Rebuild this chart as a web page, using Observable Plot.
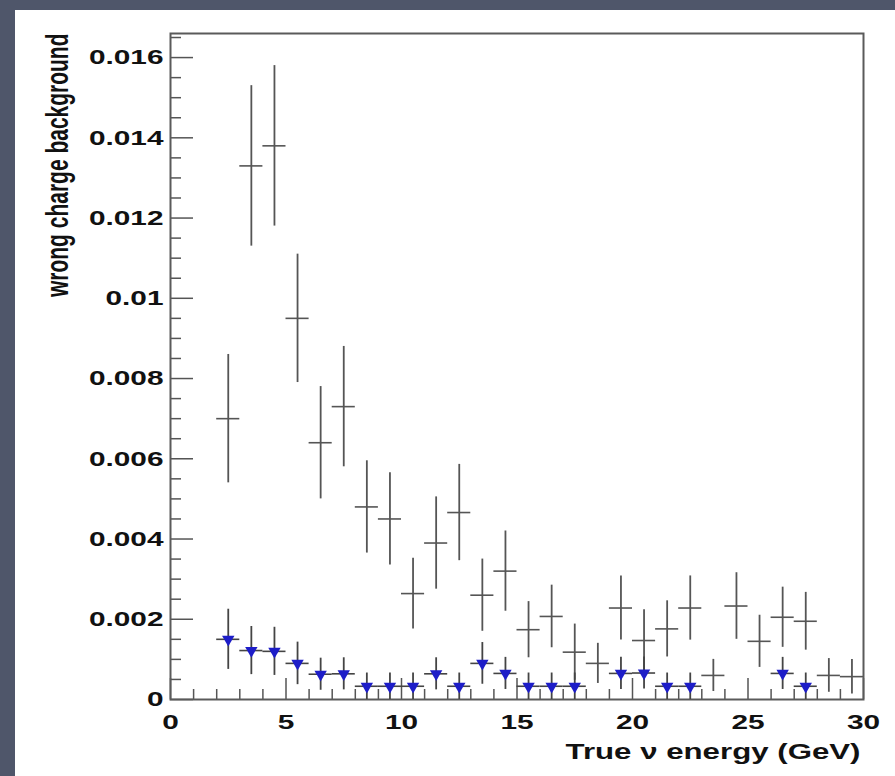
<!DOCTYPE html>
<html>
<head>
<meta charset="utf-8">
<script src="https://cdn.jsdelivr.net/npm/d3@7"></script>
<script src="https://cdn.jsdelivr.net/npm/@observablehq/plot@0.6"></script>
<style>
  html, body { margin: 0; padding: 0; }
  body { width: 895px; height: 776px; overflow: hidden; position: relative;
         background: #4f566a; }
  #panel { position: absolute; left: 15px; top: 10px; width: 880px; height: 766px; background: #ffffff; }
  #panel svg { display: block; background: transparent; }
</style>
</head>
<body>
<div id="panel"></div>
<script>
// ---- data ----
const binLow   = [2, 3, 4, 5, 6, 7, 8, 9, 10, 11, 12, 13, 14, 15, 16, 17, 18, 19, 20, 21, 22, 23, 24, 25, 26, 27, 28, 29];
const wrongVal = [0.0070, 0.0133, 0.0138, 0.0095, 0.0064, 0.0073, 0.0048, 0.0045, 0.00264, 0.0039, 0.00466, 0.0026, 0.0032, 0.00174,
                  0.00207, 0.00118, 0.0009, 0.00228, 0.00147, 0.00176, 0.00228, 0.0006, 0.00233, 0.00145, 0.00205, 0.00195, 0.0006, 0.00057];
const wrongErr = [0.0016, 0.0020, 0.0020, 0.0016, 0.0014, 0.0015, 0.00115, 0.00115, 0.00088, 0.00115, 0.0012, 0.0009, 0.0010, 0.0007,
                  0.00078, 0.0007, 0.0005, 0.0008, 0.00077, 0.0007, 0.0008, 0.0004, 0.00083, 0.00065, 0.00075, 0.00072, 0.00042, 0.00043];

const blueLow = [2, 3, 4, 5, 6, 7, 8, 9, 10, 11, 12, 13, 14, 15, 16, 17, 19, 20, 21, 22, 26, 27];
const blueVal = [0.0015, 0.00122, 0.0012, 0.0009, 0.00063, 0.00064, 0.00033, 0.00033, 0.00033, 0.00064, 0.00033, 0.0009, 0.00065,
                 0.00033, 0.00033, 0.00033, 0.00065, 0.00066, 0.00033, 0.00033, 0.00065, 0.00033];
const blueErr = [0.00075, 0.0006, 0.0006, 0.00053, 0.0004, 0.0004, 0.00033, 0.00033, 0.00033, 0.0004, 0.00033, 0.00052, 0.0004,
                 0.00033, 0.00033, 0.00033, 0.0004, 0.0004, 0.00033, 0.00033, 0.0004, 0.00033];

const yMajor = [0, 0.002, 0.004, 0.006, 0.008, 0.010, 0.012, 0.014, 0.016];
const yMinor = [0.0005, 0.001, 0.0015, 0.0025, 0.003, 0.0035, 0.0045, 0.005, 0.0055, 0.0065, 0.007, 0.0075, 0.0085, 0.009, 0.0095,
                0.0105, 0.011, 0.0115, 0.0125, 0.013, 0.0135, 0.0145, 0.015, 0.0155, 0.0165];
const xMajor = [0, 5, 10, 15, 20, 25, 30];
const xMinor = [1, 2, 3, 4, 6, 7, 8, 9, 11, 12, 13, 14, 16, 17, 18, 19, 21, 22, 23, 24, 26, 27, 28, 29];
const yTitle = "wrong charge background";
const xTitle = "True \u03bd energy (GeV)";

// ---- build tables ----
const wrong = binLow.map((b, i) => ({lo: b, hi: b + 1, mid: b + 0.5, v: wrongVal[i], e: wrongErr[i]}));
const blue  = blueLow.map((b, i) => ({lo: b, hi: b + 1, mid: b + 0.5, v: blueVal[i], e: blueErr[i]}));

const W = 880, H = 766, mL = 155, mR = 32, mT = 23, mB = 77;
const innerW = W - mL - mR, innerH = H - mT - mB;
const font = "'Liberation Sans', Arial, Helvetica, sans-serif";
const lineCol = "#555";

const fmt = d => d === 0 ? "0" : String(+d.toFixed(3));

const svg = Plot.plot({
  width: W, height: H,
  marginLeft: mL, marginRight: mR, marginTop: mT, marginBottom: mB,
  style: {background: "transparent", fontFamily: font},
  x: {domain: [0, 30], axis: null},
  y: {domain: [0, 0.0166], axis: null},
  marks: [
    // axis ticks (inward, ROOT style)
    Plot.tickY(yMajor, {y: d => d, insetRight: innerW - 23, stroke: lineCol, strokeWidth: 1.5}),
    Plot.tickY(yMinor, {y: d => d, insetRight: innerW - 11, stroke: lineCol, strokeWidth: 1.5}),
    Plot.tickX(xMajor, {x: d => d, insetTop: innerH - 21, stroke: lineCol, strokeWidth: 1.5}),
    Plot.tickX(xMinor, {x: d => d, insetTop: innerH - 10, stroke: lineCol, strokeWidth: 1.5}),
    // tick labels
    Plot.axisY(yMajor, {anchor: "left", tickSize: 0, tickPadding: 7, tickFormat: fmt, label: null,
      fontSize: 21, fontWeight: "bold", fill: "#111", fontFamily: font}),
    Plot.axisX(xMajor, {anchor: "bottom", tickSize: 0, tickPadding: 15, tickFormat: d => String(d), label: null,
      fontSize: 21, fontWeight: "bold", fill: "#111", fontFamily: font}),
    // frame
    Plot.frame({stroke: "#5a5a5a", strokeWidth: 2}),
    // wrong-charge background (black crosses)
    Plot.ruleY(wrong, {y: "v", x1: "lo", x2: "hi", stroke: lineCol, strokeWidth: 1.6}),
    Plot.ruleX(wrong, {x: "mid", y1: d => Math.max(0, d.v - d.e), y2: d => d.v + d.e, stroke: lineCol, strokeWidth: 1.8}),
    // second sample (blue triangles)
    Plot.ruleY(blue, {y: "v", x1: "lo", x2: "hi", stroke: "#444", strokeWidth: 1.6}),
    Plot.ruleX(blue, {x: "mid", y1: d => Math.max(0, d.v - d.e), y2: d => d.v + d.e, stroke: "#444", strokeWidth: 1.8}),
    Plot.dot(blue, {x: "mid", y: "v", symbol: "triangle", rotate: 180, r: 4.6, fill: "#1d1dc8", stroke: "none"}),
    // titles
    Plot.text([xTitle], {frameAnchor: "bottom-right", textAnchor: "end", lineAnchor: "middle", dx: -3, dy: 52,
      fontSize: 22, fontWeight: "bold", fill: "#111", fontFamily: font, className: "xtitle"}),
    Plot.text([yTitle], {frameAnchor: "top-left", textAnchor: "end", lineAnchor: "middle", rotate: -90, dx: -113, dy: 0,
      fontSize: 21, fontWeight: "bold", fill: "#111", fontFamily: font, className: "ytitle"})
  ]
});

// horizontal stretch of the text, as in the reference picture
function stretch(texts, sx, sy) {
  texts.forEach(t => {
    let tr = t.getAttribute("transform");
    if (!tr) {
      const x = +t.getAttribute("x") || 0, y = +t.getAttribute("y") || 0;
      tr = `translate(${x},${y})`;
      t.removeAttribute("x"); t.removeAttribute("y");
    }
    t.setAttribute("transform", tr + ` scale(${sx},${sy})`);
  });
}
const all = Array.from(svg.querySelectorAll("text"));
const yT = Array.from(svg.querySelectorAll(".ytitle text"));
stretch(all.filter(t => !yT.includes(t)), 1.42, 1);
stretch(yT, 1, 1.5);

document.getElementById("panel").appendChild(svg);
</script>
</body>
</html>
